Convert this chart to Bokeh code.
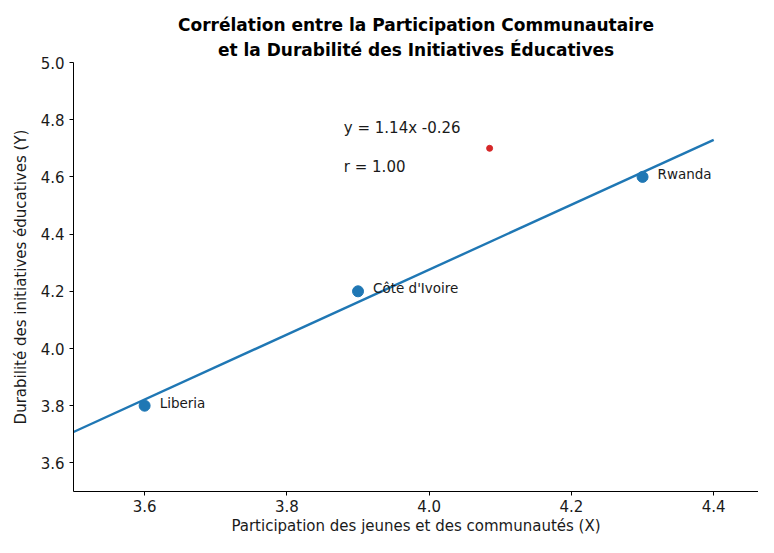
import numpy as np
from bokeh.plotting import figure
from bokeh.models import ColumnDataSource, LabelSet, Range1d, Title, Label, PrintfTickFormatter
from bokeh.core.properties import value
from bokeh.embed import file_html
from bokeh.resources import INLINE

# ---- data ----
countries = ["Liberia", "Côte d'Ivoire", "Rwanda"]
participation = [3.6, 3.9, 4.3]
durabilite = [3.8, 4.2, 4.6]
extra_x = [4.085]
extra_y = [4.70]
fit_x = [3.5, 4.4]
annot_x = [3.88, 3.88]
annot_y = [4.77, 4.635]
x_ticks = [3.6, 3.8, 4.0, 4.2, 4.4]
y_ticks = [3.6, 3.8, 4.0, 4.2, 4.4, 4.6, 4.8, 5.0]

slope, intercept = np.polyfit(participation, durabilite, 1)
r = np.corrcoef(participation, durabilite)[0, 1]
fit_y = [slope * v + intercept for v in fit_x]
annot_text = [f"y = {slope:.2f}x {intercept:.2f}", f"r = {r:.2f}"]

FONT = "DejaVu Sans"
TXT = "#1a1a1a"

p = figure(width=758, height=537, output_backend="svg", toolbar_location=None,
           x_range=Range1d(3.5, 4.463), y_range=Range1d(3.5, 5.0),
           min_border_left=73, min_border_right=0, min_border_top=62, min_border_bottom=40)
p.title = None
# second line first (closest to plot), then first line
p.add_layout(Title(text="et la Durabilité des Initiatives Éducatives",
                   align="center", text_font=FONT, text_font_size="17px",
                   text_font_style="bold", text_color="black", standoff=6), "above")
p.add_layout(Title(text="Corrélation entre la Participation Communautaire",
                   align="center", text_font=FONT, text_font_size="17px",
                   text_font_style="bold", text_color="black", standoff=0), "above")

p.grid.visible = False
p.outline_line_color = None
p.background_fill_color = "white"
p.border_fill_color = "white"

for ax in (p.xaxis[0], p.yaxis[0]):
    ax.axis_line_color = "black"
    ax.major_tick_line_color = "black"
    ax.minor_tick_line_color = None
    ax.major_tick_in = 0
    ax.major_tick_out = 4
    ax.major_label_text_font = FONT
    ax.major_label_text_font_size = "15px"
    ax.major_label_text_color = TXT
    ax.axis_label_text_font = FONT
    ax.axis_label_text_font_size = "15px"
    ax.axis_label_text_font_style = "normal"
    ax.axis_label_text_color = TXT
    ax.formatter = PrintfTickFormatter(format="%.1f")

p.xaxis.axis_label = "Participation des jeunes et des communautés (X)"
p.yaxis.axis_label = "Durabilité des initiatives éducatives (Y)"
p.xaxis.ticker = x_ticks
p.yaxis.ticker = y_ticks
p.xaxis.major_label_standoff = 4
p.xaxis.axis_label_standoff = 2
p.yaxis.axis_label_standoff = 8

src = ColumnDataSource(dict(x=participation, y=durabilite, name=countries))
p.line(fit_x, fit_y, line_color="#1f77b4", line_width=2.4)
p.scatter("x", "y", source=src, size=11, color="#1f77b4")
p.scatter(extra_x, extra_y, size=6, color="#d62728")

labels = LabelSet(x="x", y="y", text="name", source=src, x_offset=15, y_offset=3,
                  text_font=value(FONT), text_font_size="13.5px", text_color=TXT,
                  text_baseline="middle")
p.add_layout(labels)

for tx, ty, tt in zip(annot_x, annot_y, annot_text):
    p.add_layout(Label(x=tx, y=ty, text=tt, text_font=FONT, text_font_size="15px",
                       text_color=TXT, text_baseline="middle"))

open("out.html", "w").write(file_html(p, INLINE))
